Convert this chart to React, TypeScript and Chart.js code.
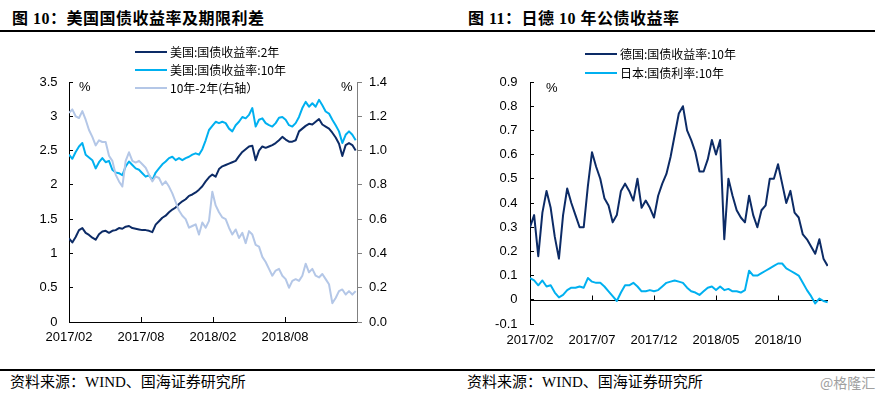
import React, { useEffect, useRef } from 'react';
import { Chart, registerables } from 'chart.js';

Chart.register(...registerables);

// ---------------- Figure 10: US Treasury yields ----------------
const US_X_STEP = 10 / 36; // months between samples
const US_X_MAX = 24;
const US_TICK_MONTHS = [0, 6, 12, 18];
const US_TICK_LABELS = ['2017/02', '2017/08', '2018/02', '2018/08'];
const US_LABELS = ['美国:国债收益率:2年', '美国:国债收益率:10年', '10年-2年(右轴）'];

const US_2Y = [
  1.22, 1.16, 1.24, 1.34, 1.37, 1.30, 1.27, 1.23, 1.20, 1.28,
  1.32, 1.33, 1.30, 1.33, 1.34, 1.37, 1.36, 1.39, 1.40, 1.37,
  1.36, 1.35, 1.34, 1.34, 1.33, 1.31, 1.42, 1.47, 1.52, 1.55,
  1.60, 1.64, 1.67, 1.72, 1.76, 1.79, 1.84, 1.86, 1.89, 1.93,
  1.98, 2.05, 2.11, 2.15, 2.12, 2.23, 2.27, 2.29, 2.31, 2.33,
  2.35, 2.42, 2.48, 2.52, 2.56, 2.57, 2.36, 2.50, 2.56, 2.54,
  2.56, 2.58, 2.61, 2.65, 2.70, 2.66, 2.63, 2.63, 2.65, 2.78,
  2.82, 2.86, 2.89, 2.88, 2.92, 2.96, 2.88, 2.85, 2.82, 2.76,
  2.69, 2.60, 2.42, 2.58, 2.61, 2.58, 2.50,
];

const US_10Y = [
  2.44, 2.38, 2.48, 2.56, 2.61, 2.44, 2.40, 2.36, 2.24, 2.33,
  2.39, 2.33, 2.35, 2.22, 2.18, 2.17, 2.14, 2.27, 2.34, 2.29,
  2.24, 2.22, 2.17, 2.12, 2.14, 2.07, 2.18, 2.24, 2.30, 2.34,
  2.39, 2.41, 2.36, 2.39, 2.36, 2.39, 2.41, 2.44, 2.46, 2.44,
  2.52, 2.65, 2.80, 2.86, 2.92, 2.90, 2.92, 2.90, 2.82, 2.78,
  2.87, 2.92, 2.99, 2.97, 3.02, 3.12, 2.85, 2.95, 2.97, 2.90,
  2.87, 2.85, 2.90, 2.98, 2.99, 2.95, 2.87, 2.85, 2.90, 2.99,
  3.12, 3.21, 3.14, 3.19, 3.14, 3.24, 3.16, 3.07, 3.04, 2.95,
  2.87, 2.78, 2.61, 2.73, 2.78, 2.73, 2.65,
];

const US_SPREAD = [
  1.22, 1.24, 1.20, 1.19, 1.23, 1.18, 1.12, 1.08, 1.03, 1.06,
  1.05, 1.05, 0.97, 0.94, 0.86, 0.82, 0.79, 0.94, 0.99, 0.94,
  0.93, 0.94, 0.92, 0.90, 0.86, 0.82, 0.85, 0.84, 0.80, 0.82,
  0.79, 0.75, 0.70, 0.65, 0.62, 0.60, 0.55, 0.56, 0.57, 0.51,
  0.58, 0.55, 0.59, 0.76, 0.68, 0.64, 0.61, 0.60, 0.55, 0.51,
  0.54, 0.49, 0.52, 0.46, 0.53, 0.51, 0.45, 0.44, 0.38, 0.35,
  0.31, 0.27, 0.30, 0.31, 0.27, 0.25, 0.20, 0.24, 0.25, 0.24,
  0.27, 0.34, 0.29, 0.31, 0.27, 0.26, 0.28, 0.25, 0.22, 0.11,
  0.14, 0.18, 0.19, 0.16, 0.18, 0.16, 0.18,
];

// ---------------- Figure 11: Germany / Japan 10Y ----------------
const EU_X_STEP = 1 / 3; // months between samples
const EU_X_MAX = 24.03;
const EU_TICK_MONTHS = [0, 5, 10, 15, 20];
const EU_TICK_LABELS = ['2017/02', '2017/07', '2017/12', '2018/05', '2018/10'];
const EU_LABELS = ['德国:国债收益率:10年', '日本:国债利率:10年'];

const DE_10Y = [
  0.30, 0.35, 0.18, 0.36, 0.45, 0.38, 0.26, 0.17, 0.35, 0.46,
  0.40, 0.35, 0.30, 0.30, 0.47, 0.61, 0.55, 0.50, 0.42, 0.39,
  0.32, 0.35, 0.45, 0.48, 0.45, 0.41, 0.50, 0.38, 0.41, 0.38,
  0.34, 0.43, 0.48, 0.52, 0.59, 0.68, 0.77, 0.80, 0.70, 0.66,
  0.61, 0.53, 0.53, 0.58, 0.66, 0.60, 0.66, 0.25, 0.50, 0.43,
  0.37, 0.34, 0.32, 0.43, 0.35, 0.30, 0.37, 0.39, 0.50, 0.50,
  0.56, 0.48, 0.40, 0.45, 0.36, 0.34, 0.27, 0.25, 0.22, 0.19,
  0.25, 0.17, 0.14,
];

const JP_10Y = [
  0.09, 0.08, 0.06, 0.08, 0.055, 0.06, 0.03, 0.01, 0.02, 0.04,
  0.05, 0.05, 0.055, 0.05, 0.09, 0.075, 0.07, 0.07, 0.055, 0.035,
  0.015, -0.005, 0.03, 0.06, 0.06, 0.07, 0.055, 0.035, 0.035, 0.04,
  0.035, 0.04, 0.055, 0.07, 0.075, 0.08, 0.075, 0.07, 0.05, 0.035,
  0.03, 0.02, 0.035, 0.05, 0.055, 0.04, 0.055, 0.04, 0.045, 0.035,
  0.035, 0.03, 0.04, 0.12, 0.10, 0.10, 0.11, 0.12, 0.13, 0.14,
  0.15, 0.15, 0.13, 0.12, 0.11, 0.10, 0.07, 0.04, 0.015, -0.015,
  0.005, -0.005, -0.01,
];

// ---------------- styles ----------------
const NAVY = '#0C2B66';
const SKY = '#00B0F0';
const PALE = '#B4C7E7';
const AXIS_GREY = '#808080';
const TICK_FONT = { family: '"Liberation Sans", Arial, sans-serif', size: 13 };
const CJK_SANS = '"Noto Sans CJK SC", "Liberation Sans", sans-serif';
const CJK_SERIF = '"Liberation Serif", "Noto Sans CJK SC", serif';

const toXY = (vals: number[], step: number) => vals.map((v, i) => ({ x: i * step, y: v }));

const monthTicks = (months: number[], labels: string[]) => ({
  afterBuildTicks: (s: any) => {
    s.ticks = months.map((v) => ({ value: v }));
  },
  callback: (v: any) => {
    const i = months.indexOf(Number(v));
    return i >= 0 ? labels[i] : '';
  },
});

const zeroAxisPlugin = {
  id: 'zeroAxis',
  beforeDatasetsDraw(chart: any) {
    const { ctx, chartArea, scales } = chart;
    const x = scales.x;
    const y = scales.y;
    const py = Math.round(y.getPixelForValue(0)) + 0.5;
    ctx.save();
    ctx.strokeStyle = '#000';
    ctx.lineWidth = 1;
    ctx.beginPath();
    ctx.moveTo(chartArea.left, py);
    ctx.lineTo(chartArea.right, py);
    x.ticks.forEach((t: any) => {
      const px = Math.round(x.getPixelForValue(t.value)) + 0.5;
      ctx.moveTo(px, py);
      ctx.lineTo(px, py - 5);
    });
    ctx.stroke();
    ctx.restore();
  },
};

function baseOptions(padRight: number) {
  return {
    responsive: false,
    animation: false,
    devicePixelRatio: 1,
    events: [],
    layout: { padding: { top: 42, left: 0, right: padRight, bottom: 0 } },
    plugins: { legend: { display: false }, tooltip: { enabled: false }, title: { display: false } },
    elements: {
      point: { radius: 0, hoverRadius: 0 },
      line: { borderWidth: 2, tension: 0, borderJoinStyle: 'round' },
    },
  };
}

function usConfig(): any {
  const usTicks = monthTicks(US_TICK_MONTHS, US_TICK_LABELS);
  return {
    type: 'line',
    data: {
      datasets: [
        { label: US_LABELS[2], data: toXY(US_SPREAD, US_X_STEP), yAxisID: 'y1', borderColor: PALE, order: 0 },
        { label: US_LABELS[1], data: toXY(US_10Y, US_X_STEP), yAxisID: 'y', borderColor: SKY, order: 1 },
        { label: US_LABELS[0], data: toXY(US_2Y, US_X_STEP), yAxisID: 'y', borderColor: NAVY, order: 2 },
      ],
    },
    options: {
      ...baseOptions(0),
      scales: {
        x: {
          type: 'linear',
          min: 0,
          max: US_X_MAX,
          afterBuildTicks: usTicks.afterBuildTicks,
          afterFit: (s: any) => { s.height = 38; },
          ticks: { callback: usTicks.callback, font: TICK_FONT, color: '#000', padding: 13, maxRotation: 0, autoSkip: false },
          grid: { drawOnChartArea: false, tickLength: -5, color: '#000' },
          border: { color: '#000', width: 1 },
        },
        y: {
          position: 'left',
          min: 0,
          max: 3.5,
          afterFit: (s: any) => { s.width = 69; },
          ticks: { stepSize: 0.5, callback: (v: any) => String(Math.round(Number(v) * 10) / 10), font: TICK_FONT, color: '#000', padding: 15.5 },
          grid: { drawOnChartArea: false, tickLength: -4, color: '#000' },
          border: { color: '#000', width: 1 },
        },
        y1: {
          position: 'right',
          min: 0,
          max: 1.4,
          afterFit: (s: any) => { s.width = 83; },
          ticks: { stepSize: 0.2, callback: (v: any) => Number(v).toFixed(1), font: TICK_FONT, color: '#000', padding: 7 },
          grid: { drawOnChartArea: false, tickLength: 5, color: AXIS_GREY },
          border: { color: AXIS_GREY, width: 1 },
        },
      },
    },
  };
}

function euConfig(): any {
  const euTicks = monthTicks(EU_TICK_MONTHS, EU_TICK_LABELS);
  return {
    type: 'line',
    data: {
      datasets: [
        { label: EU_LABELS[0], data: toXY(DE_10Y, EU_X_STEP), borderColor: NAVY },
        { label: EU_LABELS[1], data: toXY(JP_10Y, EU_X_STEP), borderColor: SKY },
      ],
    },
    plugins: [zeroAxisPlugin],
    options: {
      ...baseOptions(52),
      scales: {
        x: {
          type: 'linear',
          min: 0,
          max: EU_X_MAX,
          afterBuildTicks: euTicks.afterBuildTicks,
          afterFit: (s: any) => { s.height = 36; },
          ticks: { callback: euTicks.callback, font: TICK_FONT, color: '#000', padding: 8.2, maxRotation: 0, autoSkip: false },
          grid: { drawOnChartArea: false, drawTicks: false },
          border: { display: false },
        },
        y: {
          position: 'left',
          min: -0.1,
          max: 0.9,
          afterFit: (s: any) => { s.width = 90; },
          ticks: { stepSize: 0.1, callback: (v: any) => String(Math.round(Number(v) * 10) / 10), font: TICK_FONT, color: '#000', padding: 16.5 },
          grid: { drawOnChartArea: false, tickLength: -4, color: '#000' },
          border: { color: '#000', width: 1 },
        },
      },
    },
  };
}

function ChartCanvas({ makeConfig, left, top }: { makeConfig: () => any; left: number; top: number }) {
  const ref = useRef<HTMLCanvasElement>(null);
  useEffect(() => {
    const chart = new Chart(ref.current as HTMLCanvasElement, makeConfig());
    return () => chart.destroy();
  }, []);
  return (
    <canvas
      ref={ref}
      width={440}
      height={320}
      style={{ position: 'absolute', left, top, width: 440, height: 320 }}
    />
  );
}

function Legend({ labels, colors, lineX, lineW, textX, ys }: { labels: string[]; colors: string[]; lineX: number; lineW: number; textX: number; ys: number[] }) {
  return (
    <>
      {labels.map((lab, i) => (
        <React.Fragment key={lab}>
          <div style={{ position: 'absolute', left: lineX, top: ys[i] - 1, width: lineW, height: 2, background: colors[i] }} />
          <div style={{ position: 'absolute', left: textX, top: ys[i] - 9, height: 18, lineHeight: '18px', fontSize: 12, fontFamily: CJK_SANS, color: '#000', whiteSpace: 'nowrap' }}>
            {lab}
          </div>
        </React.Fragment>
      ))}
    </>
  );
}

const abs = (left: number, top: number, extra: any = {}) => ({ position: 'absolute' as const, left, top, whiteSpace: 'nowrap' as const, ...extra });

export default function App() {
  const titleStyle = { fontFamily: CJK_SERIF, fontWeight: 700, fontSize: 16, letterSpacing: 0.5, lineHeight: '20px', color: '#000' };
  const srcStyle = { fontFamily: CJK_SERIF, fontSize: 15, lineHeight: '18px', color: '#000' };
  const pctStyle = { fontFamily: '"Liberation Sans", Arial, sans-serif', fontSize: 13, lineHeight: '16px', color: '#000' };
  return (
    <div style={{ position: 'fixed', left: 0, top: 0, width: 880, height: 394, background: '#fff', overflow: 'hidden' }}>
      <div style={abs(12, 9, titleStyle)}>图 10：美国国债收益率及期限利差</div>
      <div style={abs(468, 9, titleStyle)}>图 11：日德 10 年公债收益率</div>
      <div style={abs(0, 30, { width: 875, height: 2, background: '#000' })} />

      <ChartCanvas makeConfig={usConfig} left={0} top={40} />
      <ChartCanvas makeConfig={euConfig} left={440} top={40} />

      <Legend labels={US_LABELS} colors={[NAVY, SKY, PALE]} lineX={135} lineW={32} textX={170} ys={[52, 70, 88]} />
      <Legend labels={EU_LABELS} colors={[NAVY, SKY]} lineX={585} lineW={32} textX={620} ys={[54, 73]} />

      <div style={abs(79, 79, pctStyle)}>%</div>
      <div style={abs(341, 79, pctStyle)}>%</div>
      <div style={abs(546, 80, pctStyle)}>%</div>

      <div style={abs(0, 369, { width: 875, height: 2, background: '#000' })} />
      <div style={abs(10, 373, srcStyle)}>资料来源：WIND、国海证券研究所</div>
      <div style={abs(467, 373, srcStyle)}>资料来源：WIND、国海证券研究所</div>
      <div style={abs(820, 373, { fontFamily: CJK_SANS, fontSize: 14, lineHeight: '18px', color: '#A0A0A0' })}>@格隆汇</div>
    </div>
  );
}
